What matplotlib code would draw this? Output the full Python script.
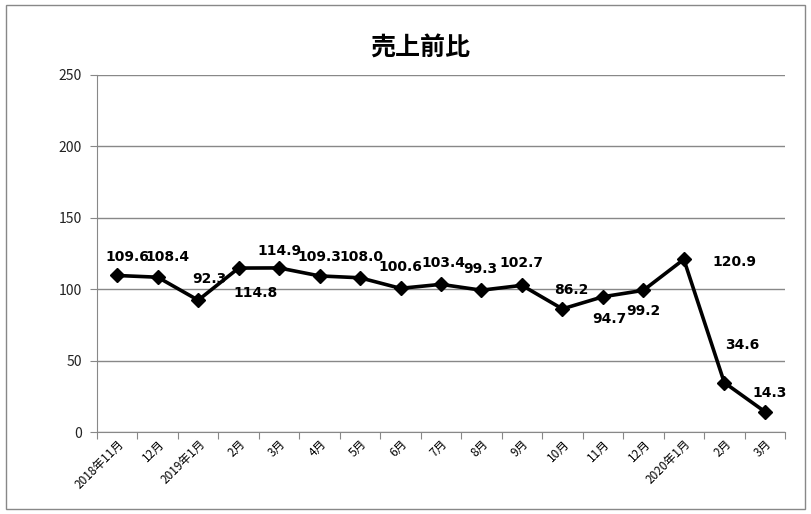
import numpy as np
import matplotlib.pyplot as plt
from matplotlib.patches import Rectangle

plt.rcParams['font.family'] = ['Noto Sans CJK JP', 'DejaVu Sans']

months = ['2018年11月', '12月', '2019年1月', '2月', '3月', '4月', '5月', '6月',
          '7月', '8月', '9月', '10月', '11月', '12月', '2020年1月', '2月', '3月']
values = [109.6, 108.4, 92.3, 114.8, 114.9, 109.3, 108.0, 100.6,
          103.4, 99.3, 102.7, 86.2, 94.7, 99.2, 120.9, 34.6, 14.3]
# label offsets (pixels) from each point
offsets = [(10, 18), (10, 20), (11, 21), (17, -25), (0, 17), (0, 19), (1, 21), (0, 21),
           (2, 21), (-1, 21), (-1, 22), (9, 19), (6, -22), (0, -21), (51, -3), (18, 38), (5, 19)]

fig = plt.figure(figsize=(8.11, 5.14), dpi=100)
ax = fig.add_axes([97/811, 1-432/514, (785-97)/811, (432-75)/514])

x = np.arange(len(values))
ax.plot(x, values, color='black', lw=2.6, marker='D', ms=7.5, zorder=3)

for xi, v, (dx, dy) in zip(x, values, offsets):
    ax.annotate(f'{v:.1f}', (xi, v), xytext=(dx, dy), textcoords='offset pixels',
                ha='center', va='center', fontsize=10, fontweight='bold',
                family='DejaVu Sans', color='black')

ax.set_xlim(-0.5, len(values) - 0.5)
ax.set_ylim(0, 250)
ax.set_yticks(range(0, 251, 50))
ax.yaxis.grid(True, color='#888888', lw=1)
ax.set_axisbelow(True)

ax.set_xticks(np.arange(-0.5, len(values), 1))
ax.set_xticklabels([])
ax.set_xticks(x, minor=True)
ax.set_xticklabels(months, minor=True, rotation=45, ha='right', rotation_mode='anchor',
                   fontsize=8.5)
ax.tick_params(axis='x', which='minor', length=0, pad=4)
ax.tick_params(axis='x', which='major', length=5, color='#888888')
ax.tick_params(axis='y', length=5, color='#888888', labelsize=10, pad=6, labelcolor='#222222')

for s in ['top', 'right']:
    ax.spines[s].set_visible(False)
for s in ['left', 'bottom']:
    ax.spines[s].set_color('#888888')

fig.text(0.518, 0.905, '売上前比', ha='center', va='center', fontsize=18, fontweight='bold')

fig.patches.append(Rectangle((6/811, 5/514), 799/811, 504/514, transform=fig.transFigure,
                             fill=False, edgecolor='#888888', lw=1))

fig.savefig('out.png', dpi=100)
